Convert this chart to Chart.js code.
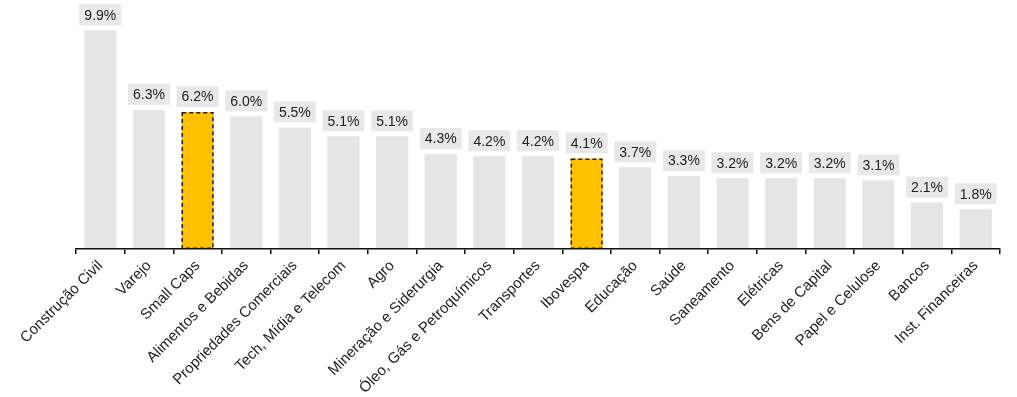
<!DOCTYPE html>
<html>
<head>
<meta charset="utf-8">
<script src="https://cdn.jsdelivr.net/npm/chart.js@4/dist/chart.umd.min.js"></script>
<style>
  html, body { margin: 0; padding: 0; background: #fff; }
  #wrap { width: 1017px; height: 397px; }
</style>
</head>
<body>
<div id="wrap"><canvas id="chart" width="1017" height="397"></canvas></div>
<script>
// Données du graphique
const categories = ['Construção Civil', 'Varejo', 'Small Caps', 'Alimentos e Bebidas',
  'Propriedades Comerciais', 'Tech, Mídia e Telecom', 'Agro', 'Mineração e Siderurgia',
  'Óleo, Gás e Petroquímicos', 'Transportes', 'Ibovespa', 'Educação', 'Saúde',
  'Saneamento', 'Elétricas', 'Bens de Capital', 'Papel e Celulose', 'Bancos',
  'Inst. Financeiras'];
const values = [9.9, 6.3, 6.2, 6.0, 5.5, 5.1, 5.1, 4.3, 4.2, 4.2, 4.1, 3.7, 3.3, 3.2, 3.2, 3.2, 3.1, 2.1, 1.8];
const highlighted = ['Small Caps', 'Ibovespa'];

const FONT = '"Liberation Sans", Arial, sans-serif';
const GREY = '#e6e5e6';
const YELLOW = '#ffc000';

// Étiquettes de valeur + contour pointillé des barres mises en avant
const labelPlugin = {
  id: 'valueLabels',
  afterDatasetsDraw(chart) {
    const ctx = chart.ctx;
    const meta = chart.getDatasetMeta(0);
    ctx.save();
    meta.data.forEach((bar, i) => {
      const p = bar.getProps(['x', 'y', 'base', 'width'], true);
      if (highlighted.includes(categories[i])) {
        ctx.setLineDash([4, 3]);
        ctx.strokeStyle = '#222';
        ctx.lineWidth = 1.5;
        ctx.strokeRect(p.x - p.width / 2 + 0.75, p.y + 0.75, p.width - 1.5, p.base - p.y - 1.5);
        ctx.setLineDash([]);
      }
      const txt = values[i].toFixed(1) + '%';
      ctx.font = '14px ' + FONT;
      const w = ctx.measureText(txt).width + 10;
      const h = 21;
      const bottom = p.y - 5;
      ctx.fillStyle = '#e8e8e8';
      ctx.fillRect(p.x - w / 2, bottom - h, w, h);
      ctx.fillStyle = '#222';
      ctx.textAlign = 'center';
      ctx.textBaseline = 'middle';
      ctx.fillText(txt, p.x, bottom - h / 2 + 1);
    });
    ctx.restore();
  }
};

new Chart(document.getElementById('chart').getContext('2d'), {
  type: 'bar',
  data: {
    labels: categories,
    datasets: [{
      data: values,
      backgroundColor: categories.map(c => highlighted.includes(c) ? YELLOW : GREY),
      borderWidth: 0,
      categoryPercentage: 1,
      barPercentage: 0.66
    }]
  },
  options: {
    responsive: false,
    animation: false,
    layout: { padding: { left: 76, right: 17, top: 28, bottom: 0 } },
    plugins: {
      legend: { display: false },
      tooltip: { enabled: false }
    },
    scales: {
      y: { display: false, min: 0, max: 10 },
      x: {
        afterFit(scale) { scale.height = 148; },
        // axe et graduations dessinés par-dessus les barres
        border: { display: true, color: '#111', width: 1.5, z: 1 },
        grid: { offset: true, drawOnChartArea: false, drawTicks: true, tickLength: 5, color: '#111', lineWidth: 1.5, z: 1 },
        ticks: {
          autoSkip: false,
          minRotation: 45,
          maxRotation: 45,
          padding: 3,
          color: '#222',
          font: { family: FONT, size: 15 }
        }
      }
    }
  },
  plugins: [labelPlugin]
});
</script>
</body>
</html>
